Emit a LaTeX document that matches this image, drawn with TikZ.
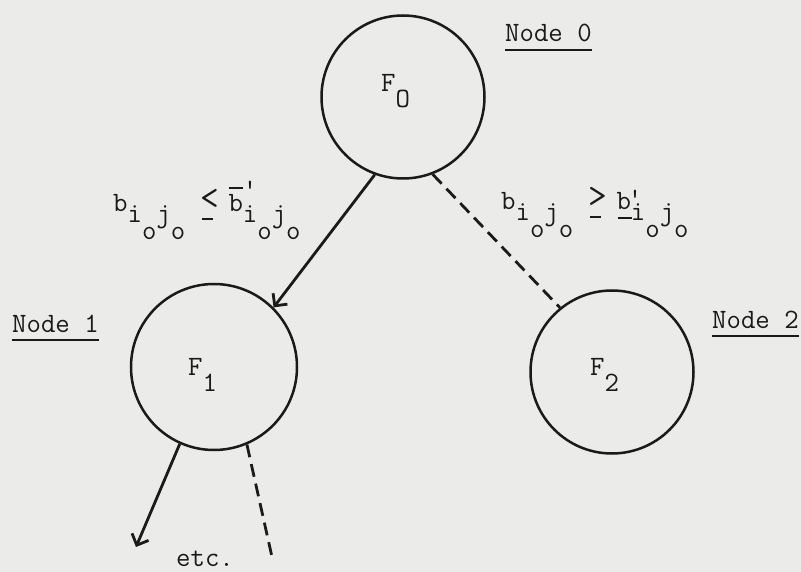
\documentclass[tikz,border=0pt]{standalone}
\usepackage{fontspec}
\usetikzlibrary{arrows.meta}
\definecolor{paper}{HTML}{EBEBE9}
\definecolor{ink}{HTML}{1A1A1A}
\newcommand\lo[1]{\raisebox{-11pt}{#1}}
\newcommand\llo[1]{\raisebox{-28pt}{#1}}
\newcommand\Fsub[1]{\raisebox{-16pt}{#1}}
\newcommand\uln[1]{\setbox0\hbox{#1}\rlap{\rule[-9pt]{\wd0}{2pt}}\box0}
\newcommand\leqc{\rlap{\kern0.5pt\raisebox{2.5pt}{\scalebox{1.3}{<}}}\rlap{\kern2.5pt\rule[-8pt]{11pt}{2.2pt}}\phantom{<}}
\newcommand\geqc{\rlap{\kern0.5pt\raisebox{2.5pt}{\scalebox{1.3}{>}}}\rlap{\kern2.5pt\rule[-8pt]{11pt}{2.2pt}}\phantom{>}}
\newcommand\bbar{\rlap{\rule[23pt]{14pt}{2.2pt}}b}
\newcommand\bund{\rlap{\kern1pt\rule[-9pt]{14pt}{2.2pt}}b}
\newcommand\ijo{\lo{i}\llo{o}\lo{j}\llo{o}}
\begin{document}
\begin{tikzpicture}[x=1pt,y=-1pt,
  font=\ttfamily\fontsize{28}{32}\selectfont\addfontfeatures{FakeBold=1.6},
  every node/.style={text=ink},
  state/.style={circle,draw=ink,line width=2.5pt,inner sep=0pt,minimum size=#1},
  txt/.style={anchor=base west,inner sep=0pt},
  conn/.style={draw=ink,line width=2.8pt},
  yes/.style={conn,-{Straight Barb[length=9pt,width=18pt]}},
  no/.style={conn,dash pattern=on 13pt off 7pt}]
\useasboundingbox (0,0) rectangle (801,572);
\fill[paper] (0,0) rectangle (801,572);
% nodes
\node[state=163pt] (f0) at (403,97) {};
\node[state=166pt] (f1) at (214,367) {};
\node[state=163pt] (f2) at (612,372) {};
\node[txt] (t0) at (381,92) {F\Fsub{O}};
\node[txt] (t1) at (188,375) {F\Fsub{1}};
\node[txt] (t2) at (590,375) {F\Fsub{2}};
% node names
\node[txt] (n0) at (505,42) {\uln{Node 0}};
\node[txt] (n1) at (12,332) {\uln{Node 1}};
\node[txt] (n2) at (712,328) {\uln{Node 2}};
% branch labels
\node[txt] (lb) at (113,212) {b\ijo\ \leqc\ \bbar\rlap{\raisebox{13pt}{'}}\ijo};
\node[txt] (rb) at (501,210) {b\ijo\ \geqc\ \bund\rlap{\kern-3pt\raisebox{2pt}{'}}\ijo};
\node[txt] (etc) at (176,566) {etc.};
% connectors
\coordinate (e1) at (136,547);
\coordinate (e2) at (272,557);
\draw[yes] (f0.250) -- (f1.45);
\draw[no] (f0.291) -- (f2.129);
\draw[yes] (f1.246) -- (e1);
\draw[no] (f1.293) -- (e2);
\end{tikzpicture}
\end{document}
